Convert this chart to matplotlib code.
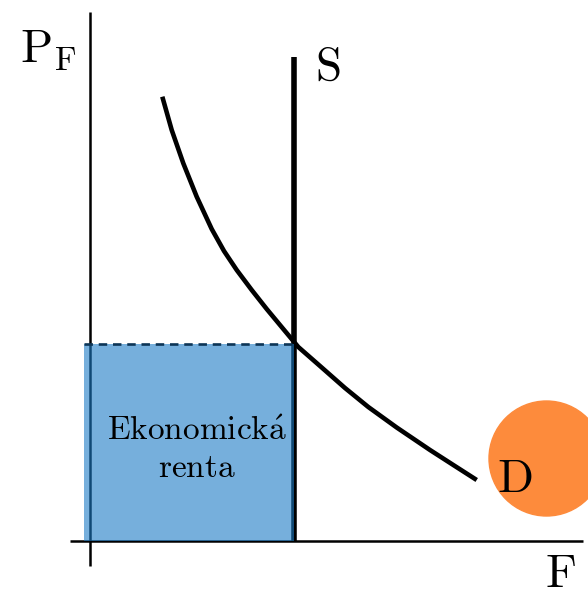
import matplotlib.pyplot as plt
import matplotlib.patches as mpatches
import numpy as np

plt.rcParams['mathtext.fontset'] = 'cm'

# demand curve (quantity F, price P_F)
demand_f = [72.3, 81.7, 93.3, 106.7, 121.7, 134, 146.7, 161.7, 176.7, 193.3, 208.3,
            230, 255, 278.3, 306.7, 340, 363.3, 386.7]
demand_p = [444.3, 411, 377.7, 344.3, 312, 290, 271, 251, 232, 212, 194,
            175, 153, 134, 113.5, 91, 76, 61]

# vertical supply
supply_f = 204
supply_top = 484

# equilibrium price -> rent rectangle
rent_price = 197
rent_left = -6

labels = {"P": r"$\mathrm{P}_\mathrm{F}$", "S": r"$\mathrm{S}$", "D": r"$\mathrm{D}$", "F": r"$\mathrm{F}$"}
rent_text = [r"$\mathrm{Ekonomick\acute{a}}$", r"$\mathrm{renta}$"]

fig = plt.figure(figsize=(5.88, 5.95), dpi=100)
ax = fig.add_axes([0, 0, 1, 1])
ax.set_xlim(-90, 498)
ax.set_ylim(-54, 541)
ax.axis('off')

# axes lines
ax.plot([0, 0], [-25, 529], color='black', lw=1.8, solid_capstyle='butt')
ax.plot([-20, 493], [0, 0], color='black', lw=1.8, solid_capstyle='butt')

# supply + demand
ax.plot([supply_f, supply_f], [0, supply_top], color='black', lw=4.0, solid_capstyle='butt')
ax.plot(demand_f, demand_p, color='black', lw=3.3, solid_capstyle='butt', solid_joinstyle='round')

# the rent box sits on top, semi transparent
rect = mpatches.Rectangle((rent_left, 0), supply_f - rent_left, rent_price,
                          facecolor='#1b7bc5', alpha=0.6, edgecolor='none', zorder=3)
ax.add_patch(rect)
ax.plot([rent_left, supply_f], [rent_price, rent_price], color='#0d3556',
        lw=1.9, ls=(0, (3.2, 2.2)), zorder=4)

# orange blob behind the D
circ = mpatches.Circle((456.5, 82.5), 57.5, color='#fd8b3c', zorder=2)
ax.add_patch(circ)

ax.text(-70, 478, labels["P"], fontsize=34, ha='left', va='baseline')
ax.text(225, 461, labels["S"], fontsize=34, ha='left', va='baseline')
ax.text(407, 49, labels["D"], fontsize=34, ha='left', va='baseline', zorder=5)
ax.text(455, -46, labels["F"], fontsize=34, ha='left', va='baseline')

ax.text(107, 101, rent_text[0], fontsize=24, ha='center', va='baseline', zorder=5)
ax.text(107, 64, rent_text[1], fontsize=24, ha='center', va='baseline', zorder=5)

plt.savefig("out.png", dpi=100)
